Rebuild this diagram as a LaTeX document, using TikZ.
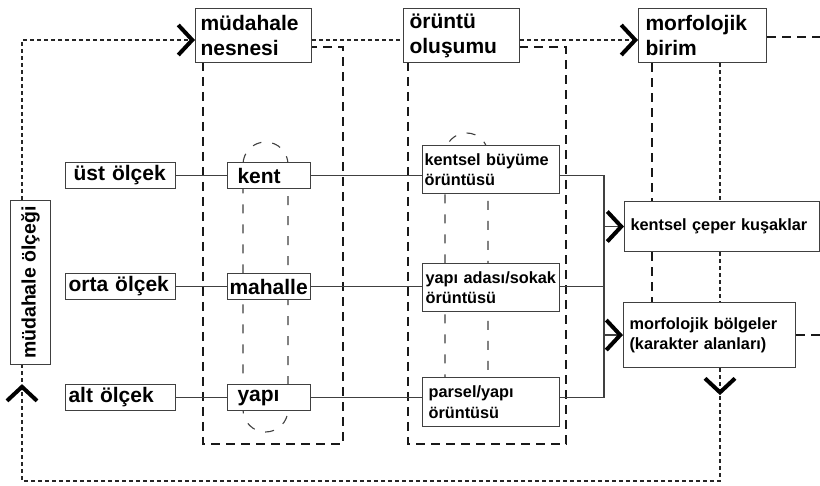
\documentclass[tikz,border=0pt]{standalone}
\usepackage{fontspec}
\setmainfont{Liberation Sans}
\usetikzlibrary{arrows.meta,decorations.markings}
\begin{document}
\begin{tikzpicture}[x=1pt,y=-1pt,
 box/.style={draw=black!75, line width=1.1pt, fill=white, anchor=north west, inner ysep=0pt, align=left, text=black},
 bigtxt/.style={font=\fontsize{21}{25}\selectfont\bfseries},
 smalltxt/.style={font=\fontsize{16.3}{20.5}\selectfont\bfseries},
 conn/.style={draw=black!75, line width=1.1pt},
 grp/.style={draw=black!90, line width=1.6pt, dash pattern=on 9pt off 6pt},
 capsule/.style={draw=black!75, line width=1.1pt, dash pattern=on 9pt off 11pt},
 dotline/.style={draw=black!85, line width=1.3pt, dash pattern=on 4pt off 3pt},
 chev/.style={-{Straight Barb[length=14pt,width=30pt,line width=4pt,color=black]}},
]
\fill[white] (0,0) rectangle (820,486);
\useasboundingbox (0,0) rectangle (820,486);

% group frames and capsules
\draw[grp] (203,47) rectangle (343,444);
\draw[grp] (408,47) rectangle (566,444);
\draw[capsule, rounded corners=22.5pt] (243,142) rectangle (288,432);
\draw[capsule, rounded corners=21.5pt] (445,133) rectangle (488,420);

% coordinates
\coordinate (ct) at (22,40);
\coordinate (cb) at (22,481);
\coordinate (c720) at (720,0);
\coordinate (c652) at (652,0);
\coordinate (j1) at (604,0);
\coordinate (r1) at (820,37);

% nodes
\node[box,bigtxt,minimum width=116pt,minimum height=54pt,text width=106pt,inner xsep=5pt] (mn) at (195,8) {müdahale\\nesnesi};
\node[box,bigtxt,minimum width=116pt,minimum height=54pt,text width=104pt,inner xsep=6pt] (oo) at (403,8) {örüntü\\oluşumu};
\node[box,bigtxt,minimum width=128pt,minimum height=54pt,text width=114pt,inner xsep=7pt] (mb) at (638,8) {morfolojik\\birim};
\node[draw=black!75, line width=1.1pt, fill=white, anchor=north west, minimum width=40pt, minimum height=164pt, inner sep=0pt] (vs) at (10,200) {\rotatebox{90}{\fontsize{19.5}{22}\selectfont\bfseries müdahale ölçeği}};

\node[box,bigtxt,minimum width=110pt,minimum height=26pt,text width=94pt,inner xsep=8pt] (ust) at (65,162) {\mbox{üst ölçek}};
\node[box,bigtxt,minimum width=110pt,minimum height=26pt,text width=104pt,inner xsep=3pt] (orta) at (65,273) {\mbox{orta ölçek}};
\node[box,bigtxt,minimum width=110pt,minimum height=26pt,text width=104pt,inner xsep=3pt] (alt) at (65,384) {\mbox{alt ölçek}};

\node[box,bigtxt,minimum width=83pt,minimum height=26pt,text width=63pt,inner xsep=10pt] (kent) at (227,162) {kent};
\node[box,bigtxt,minimum width=83pt,minimum height=26pt,text width=79pt,inner xsep=2pt] (mahalle) at (227,273) {\mbox{mahalle}};
\node[box,bigtxt,minimum width=83pt,minimum height=26pt,text width=63pt,inner xsep=10pt] (yapi) at (227,384) {yapı};

\node[box,smalltxt,minimum width=137pt,minimum height=48pt,text width=133pt,inner xsep=2pt] (kbo) at (422,145) {\mbox{kentsel büyüme}\\örüntüsü};
\node[box,smalltxt,minimum width=137pt,minimum height=48pt,text width=131pt,inner xsep=3pt] (ybo) at (422,263) {\mbox{yapı adası/sokak}\\örüntüsü};
\node[box,smalltxt,minimum width=137pt,minimum height=49pt,text width=125pt,inner xsep=6pt] (pyo) at (422,377) {\mbox{parsel/yapı}\\örüntüsü};

\node[box,smalltxt,minimum width=195pt,minimum height=50pt,text width=183pt,inner xsep=6pt] (kck) at (624,201) {\mbox{kentsel çeper kuşaklar}};
\node[box,smalltxt,minimum width=172pt,minimum height=65pt,text width=160pt,inner xsep=6pt] (mbl) at (623,302) {\mbox{morfolojik bölgeler}\\\mbox{(karakter alanları)}};

% scale rows
\draw[conn] (ust) -- (kent);
\draw[conn] (kent.east) -- (kent.east -| kbo.west);
\draw[conn] (orta) -- (mahalle);
\draw[conn] (mahalle.east) -- (mahalle.east -| ybo.west);
\draw[conn] (alt) -- (yapi);
\draw[conn] (yapi.east) -- (yapi.east -| pyo.west);

% collector
\draw[conn] (kbo.east |- kent) -- (j1 |- kent) -- (j1 |- yapi) -- (pyo.east |- yapi);
\draw[conn] (ybo.east |- mahalle) -- (j1 |- mahalle);
\draw[conn, chev] (j1 |- kck) -- (kck.west);
\draw[conn, chev] (j1 |- mbl) -- (mbl.west);

% morfolojik birim group lines
\draw[grp] (mb.south -| c652) -- (kck.north -| c652);
\draw[grp] (kck.south -| c652) -- (mbl.north -| c652);
\draw[grp] (mb.east |- r1) -- (r1);
\draw[grp] (mbl.east) -- (mbl.east -| r1);
\draw[dotline] (mb.south -| c720) -- (kck.north -| c720);
\draw[dotline] (kck.south -| c720) -- (mbl.north -| c720);

% outer loop
\draw[dotline, chev] (vs.north -| ct) -- (ct) -- (mn.west |- ct);
\draw[dotline] (mn.east |- ct) -- (oo.west |- ct);
\draw[dotline, chev] (oo.east |- ct) -- (mb.west |- ct);
\draw[dotline, postaction={decorate}, decoration={markings,
   mark=at position 27pt with {\arrow{Straight Barb[length=14pt,width=30pt,line width=4pt,color=black]}},
   mark=at position -19pt with {\arrow{Straight Barb[length=14pt,width=30pt,line width=4pt,color=black]}}}]
   (mbl.south -| c720) -- (c720 |- cb) -- (cb) -- (vs.south -| cb);
\end{tikzpicture}
\end{document}
